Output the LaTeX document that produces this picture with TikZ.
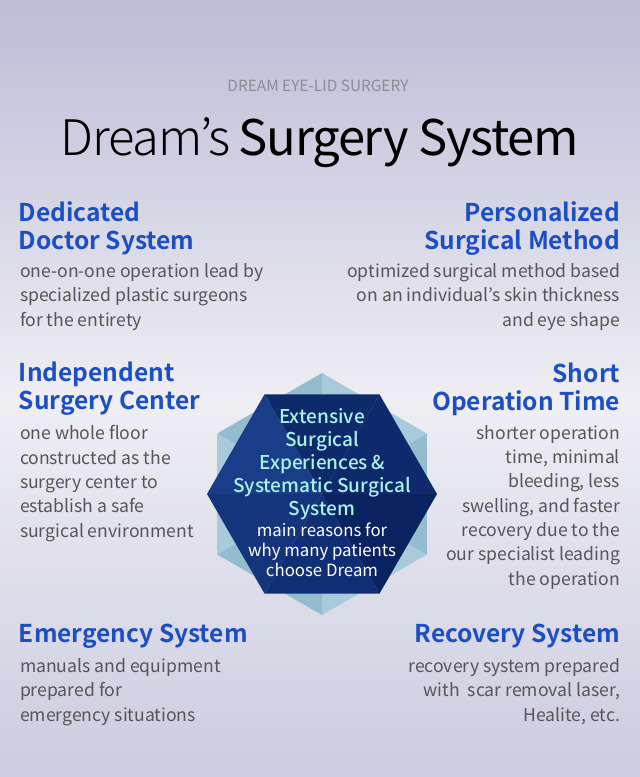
\documentclass[tikz,border=0pt]{standalone}
\usepackage{fontspec}
\usetikzlibrary{positioning}
\usepackage{xcolor}

\newfontfamily\notoreg{Noto Sans CJK KR}
\newfontfamily\notolight[LetterSpace=-2.5]{Noto Sans CJK KR Light}
\newfontfamily\nototitle[LetterSpace=-2.5]{Noto Sans CJK KR}
\newfontfamily\notomed{Noto Sans CJK KR Medium}
\newfontfamily\notobold{Noto Sans CJK KR Bold}

\definecolor{bgtop}{HTML}{BEBCD7}
\definecolor{bgmid}{HTML}{EEEEF3}
\definecolor{bgbot}{HTML}{CDCCE0}
\definecolor{headblue}{HTML}{1C4EC6}
\definecolor{bodygray}{HTML}{555559}
\definecolor{labelgray}{HTML}{8C8C94}
\definecolor{hexpaleA}{HTML}{A9CADA}
\definecolor{hexpaleB}{HTML}{93BCCF}
\definecolor{hexnavyA}{HTML}{102E74}
\definecolor{hexnavyB}{HTML}{0B2260}
\definecolor{hexnavyC}{HTML}{0F2A6C}
\definecolor{hexnavyD}{HTML}{0D2A6A}
\definecolor{hexnavyE}{HTML}{1A3D8A}
\definecolor{hexnavyF}{HTML}{14357C}
\definecolor{hexcyan}{HTML}{AAF2EE}

\begin{document}
\begin{tikzpicture}[x=1pt,y=-1pt,
      head node/.style={inner sep=0, outer sep=0, text=headblue, text depth=0pt,
          font=\notobold\fontsize{24.5}{28}\selectfont},
      body node/.style={inner sep=0, outer sep=0, text=bodygray, text depth=0pt,
          font=\notoreg\fontsize{17.6}{24.3}\selectfont},
      hex title/.style={inner sep=0, text=hexcyan, align=center, text depth=0pt,
          font=\notomed\fontsize{19}{23}\selectfont},
      hex note/.style={inner sep=0, text=white, align=center, text depth=0pt,
          font=\notoreg\fontsize{16.8}{20}\selectfont}]

    \useasboundingbox (0,0) rectangle (640,777);
    \begin{scope}[y=1pt]
      \shade[top color=bgtop, bottom color=bgmid] (0,-400) rectangle (640,0);
      \shade[top color=bgmid, bottom color=bgbot] (0,-777) rectangle (640,-400);
    \end{scope}

    % title
    \node[inner sep=0, text=labelgray, font=\notoreg\fontsize{15.4}{17}\selectfont]
        (toplabel) at (318,86) {DREAM EYE-LID SURGERY};
    \node[inner sep=0, anchor=base, font=\fontsize{49}{54}\selectfont]
        (title) at (320,155) {{\notolight Dream’s}\,{\nototitle Surgery System}};

    % hexagon badge
    \begin{scope}[shift={(322,494)}]
      \foreach \a/\c in {90/hexpaleA,30/hexpaleB,-30/hexpaleA,-90/hexpaleB,-150/hexpaleA,150/hexpaleB}
        \fill[\c] (0,0) -- (\a:121) -- (\a-60:121) -- cycle;
      \foreach \a/\c in {60/hexnavyA,0/hexnavyB,-60/hexnavyC,-120/hexnavyD,180/hexnavyE,120/hexnavyF}
        \fill[\c] (0,0) -- (\a:115) -- (\a+60:115) -- cycle;
    \end{scope}

    \node[hex title, anchor=south] (hexmain) at (322,516)
        {Extensive\\Surgical\\Experiences\,\&\\Systematic Surgical\\System};
    \node[hex note, anchor=south] (hexsub) at (322,577)
        {main reasons for\\why many patients\\choose Dream};

    % left column
    \node[head node, anchor=south west, align=left] (dedicated) at (19,249)
        {Dedicated\\Doctor System};
    \node[body node, anchor=south west, align=left] (dedicatedtxt) at (20,326)
        {one-on-one operation lead by\\specialized plastic surgeons\\for the entirety};

    \node[head node, anchor=south west, align=left] (independent) at (19,409)
        {Independent\\Surgery Center};
    \node[body node, anchor=south west, align=left] (independenttxt) at (20,537)
        {one whole floor\\constructed as the\\surgery center to\\establish a safe\\surgical environment};

    \node[head node, anchor=south west, align=left] (emergency) at (19,642)
        {Emergency System};
    \node[body node, anchor=south west, align=left] (emergencytxt) at (20,721)
        {manuals and equipment\\prepared for\\emergency situations};

    % right column
    \node[head node, anchor=south east, align=right] (personalized) at (620,249)
        {Personalized\\Surgical Method};
    \node[body node, anchor=south east, align=right] (personalizedtxt) at (620,326)
        {optimized surgical method based\\on an individual’s skin thickness\\and eye shape};

    \node[head node, anchor=south east, align=right] (short) at (620,410)
        {Short\\Operation Time};
    \node[body node, anchor=south east, align=right] (shorttxt) at (620,585)
        {shorter operation\\time, minimal\\bleeding, less\\swelling, and faster\\recovery due to the\\our specialist leading\\the operation};

    \node[head node, anchor=south east, align=right] (recovery) at (620,642)
        {Recovery System};
    \node[body node, anchor=south east, align=right] (recoverytxt) at (620,721)
        {recovery system prepared\\with\ \ scar removal laser,\\Healite, etc.};

  \end{tikzpicture}
\end{document}
